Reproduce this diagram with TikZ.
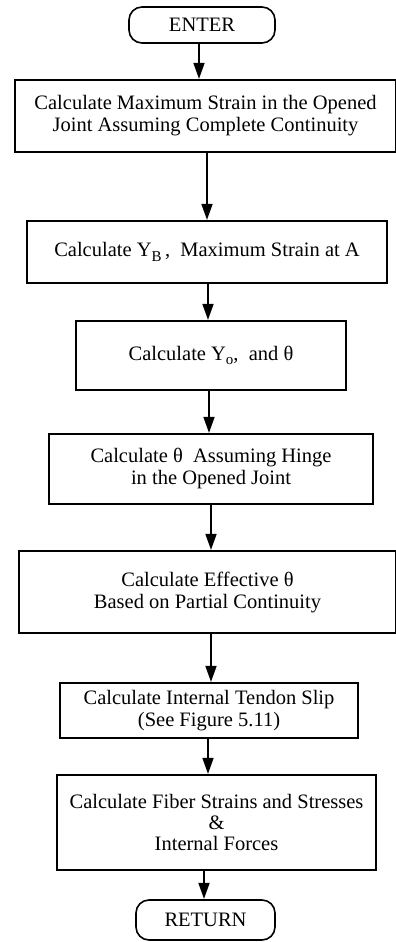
\documentclass[tikz,border=0pt]{standalone}
\usepackage{fontspec}
\setmainfont{Liberation Serif}
\usetikzlibrary{arrows.meta}
\newcommand{\subsc}[1]{\raisebox{-0.45ex}{\fontsize{15}{15}\selectfont #1}}
\tikzset{
  flowbox/.style={draw=black, line width=1.6pt, rectangle, inner sep=0pt, align=center,
    font=\fontsize{20.5}{22}\selectfont},
  termbox/.style={draw=black, line width=1.6pt, rectangle, rounded corners=13pt, inner sep=0pt,
    align=center, font=\fontsize{20.5}{22}\selectfont},
  arr/.style={draw=black, line width=1.6pt, -{Triangle[length=16pt,width=11pt]}, shorten >=0.3pt}
}
\begin{document}
\begin{tikzpicture}[x=1pt,y=-1pt]
\useasboundingbox (0,0) rectangle (396,942);
\fill[white] (0,0) rectangle (396,942);

\node[termbox, minimum width=146pt, minimum height=36pt] (enter) at (202,25) {ENTER};
\node[flowbox, minimum width=381pt, minimum height=72pt] (b1) at (205.5,116)
  {Calculate Maximum Strain in the Opened\\Joint Assuming Complete Continuity};
\node[flowbox, minimum width=360pt, minimum height=62pt] (b2) at (207,252)
  {Calculate Y\subsc{B}\,,\ \ Maximum Strain at A};
\node[flowbox, minimum width=270pt, minimum height=69pt] (b3) at (211,355.5)
  {Calculate Y\subsc{o},\ \ and θ};
\node[flowbox, minimum width=324pt, minimum height=70pt] (b4) at (211,469)
  {Calculate θ\ \ Assuming Hinge\\in the Opened Joint};
\node[flowbox, minimum width=377pt, minimum height=82pt] (b5) at (207.5,592)
  {Calculate Effective θ\\Based on Partial Continuity};
\node[flowbox, minimum width=298pt, minimum height=55pt] (b6) at (209,710.5)
  {Calculate Internal Tendon Slip\\(See Figure 5.11)};
\node[flowbox, minimum width=319pt, minimum height=95pt, font=\fontsize{20.5}{21}\selectfont] (b7) at (216.5,822.5)
  {Calculate Fiber Strains and Stresses\\\&\\Internal Forces};
\node[termbox, minimum width=139pt, minimum height=40pt] (ret) at (205.5,920) {RETURN};

\draw[arr] ([xshift=-3pt]enter.south) -- ([xshift=-3pt]enter.south |- b1.north);
\draw[arr] ([xshift=1.5pt]b1.south) -- ([xshift=1.5pt]b1.south |- b2.north);
\draw[arr] ([xshift=1pt]b2.south) -- ([xshift=1pt]b2.south |- b3.north);
\draw[arr] ([xshift=-2pt]b3.south) -- ([xshift=-2pt]b3.south |- b4.north);
\draw[arr] (b4.south) -- (b4.south |- b5.north);
\draw[arr] ([xshift=3.5pt]b5.south) -- ([xshift=3.5pt]b5.south |- b6.north);
\draw[arr] ([xshift=-1pt]b6.south) -- ([xshift=-1pt]b6.south |- b7.north);
\draw[arr] ([xshift=-12.5pt]b7.south) -- ([xshift=-12.5pt]b7.south |- ret.north);
\end{tikzpicture}
\end{document}
